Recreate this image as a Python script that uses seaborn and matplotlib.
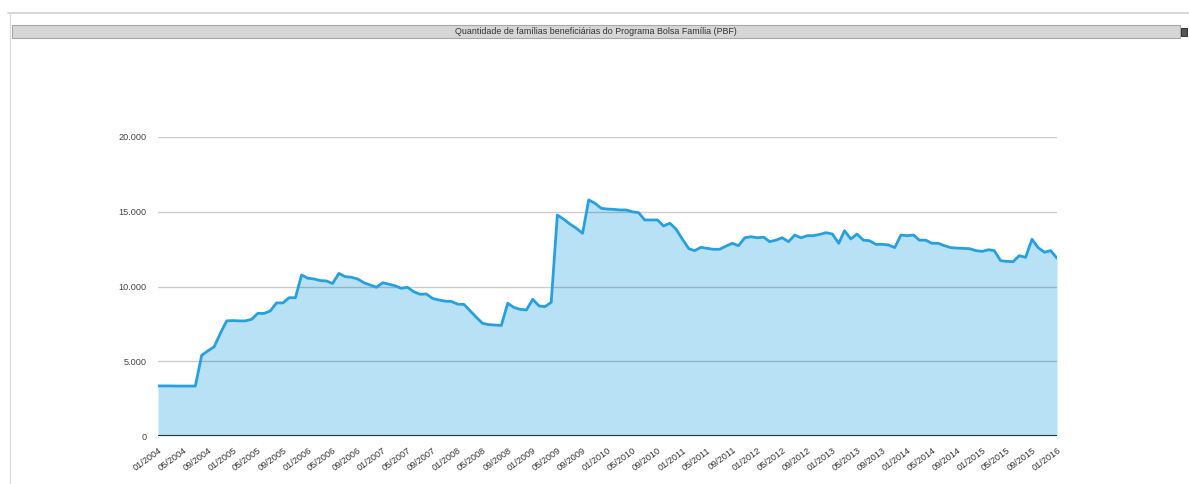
import numpy as np
import pandas as pd
import matplotlib
matplotlib.use("Agg")
import matplotlib.pyplot as plt
from matplotlib.patches import Rectangle
from matplotlib.lines import Line2D
import seaborn as sns

# monthly values, 01/2004 .. 01/2016
start_month = "2004-01-01"
familias = [
    3350, 3350, 3350, 3340, 3340, 3340, 3340, 5400, 5700, 5970,
    6900, 7700, 7720, 7700, 7700, 7800, 8200, 8200, 8360, 8900,
    8900, 9250, 9250, 10770, 10550, 10500, 10400, 10370, 10200, 10880,
    10660, 10620, 10500, 10250, 10100, 9950, 10250, 10150, 10050, 9880,
    9950, 9650, 9480, 9500, 9200, 9100, 9020, 9000, 8820, 8800,
    8380, 7940, 7540, 7450, 7420, 7400, 8880, 8600, 8470, 8430,
    9140, 8700, 8650, 8940, 14780, 14500, 14180, 13900, 13560, 15790,
    15560, 15230, 15180, 15160, 15120, 15120, 15000, 14940, 14450, 14450,
    14450, 14050, 14230, 13830, 13160, 12530, 12400, 12620, 12550, 12490,
    12490, 12700, 12890, 12730, 13260, 13330, 13260, 13300, 13000, 13100,
    13260, 13000, 13440, 13260, 13400, 13400, 13490, 13600, 13510, 12890,
    13730, 13180, 13510, 13100, 13060, 12820, 12820, 12780, 12600, 13440,
    13400, 13440, 13100, 13100, 12890, 12890, 12730, 12600, 12570, 12550,
    12530, 12400, 12350, 12460, 12400, 11730, 11680, 11660, 12060, 11950,
    13160, 12600, 12290, 12400, 11890,
]
y_ticks = [0, 5000, 10000, 15000, 20000]
y_labels = ["0", "5.000", "10.000", "15.000", "20.000"]
titulo = "Quantidade de famílias beneficiárias do Programa Bolsa Família (PBF)"

df = pd.DataFrame({
    "mes": pd.date_range(start_month, periods=len(familias), freq="MS"),
    "familias": familias,
})

sns.set_style("white")
plt.rcParams["font.family"] = ["Liberation Sans Narrow", "Liberation Sans", "DejaVu Sans"]

W, H = 1189, 484
fig = plt.figure(figsize=(W / 100, H / 100), dpi=100)

# outer panel border and header bar
fig.add_artist(Line2D([8 / W, 1], [1 - 13 / H, 1 - 13 / H], color="#cfcfcf", lw=1.2))
fig.add_artist(Line2D([10 / W, 10 / W], [0, 1 - 13 / H], color="#dcdcdc", lw=1.0))
fig.patches.append(Rectangle((12 / W, 1 - 38 / H), (1180 - 12) / W, 13 / H,
                             transform=fig.transFigure, facecolor="#d6d6d6",
                             edgecolor="#a8a8a8", lw=0.8))
fig.text(596 / W, 1 - 31.5 / H, titulo, ha="center", va="center",
         fontsize=6.4, color="#333333")
fig.patches.append(Rectangle((1181 / W, 1 - 36 / H), 6 / W, 8 / H,
                             transform=fig.transFigure, facecolor="#555555",
                             edgecolor="#222222", lw=0.6))

left, right, top, bottom = 158, 1057, 137, 436
ax = fig.add_axes([left / W, 1 - bottom / H, (right - left) / W, (bottom - top) / H])

ax.fill_between(df["mes"], df["familias"], 0, color="#b9e1f5", lw=0, zorder=1)
sns.lineplot(data=df, x="mes", y="familias", ax=ax, color="#27a0e0", lw=2, zorder=4)

ax.set_xlim(df["mes"].iloc[0], df["mes"].iloc[-1])
ax.set_ylim(0, 20000)
ax.set_yticks(y_ticks)
ax.set_yticklabels(y_labels)
ax.set_axisbelow(False)
ax.yaxis.grid(True, color="black", alpha=0.2, lw=1)
ax.axhline(0, color="#333333", lw=1.5, zorder=3)

xt = df["mes"].iloc[::4]
ax.set_xticks(xt)
ax.set_xticklabels([d.strftime("%m/%Y") for d in xt], rotation=36,
                   ha="right", va="top", rotation_mode="anchor")
ax.tick_params(axis="x", length=0, pad=7, labelsize=6.6, labelcolor="#333333")
ax.tick_params(axis="y", length=0, pad=8, labelsize=6.6, labelcolor="#444444")
ax.set_xlabel("")
ax.set_ylabel("")
for s in ax.spines.values():
    s.set_visible(False)

fig.savefig("out.png", dpi=100)
